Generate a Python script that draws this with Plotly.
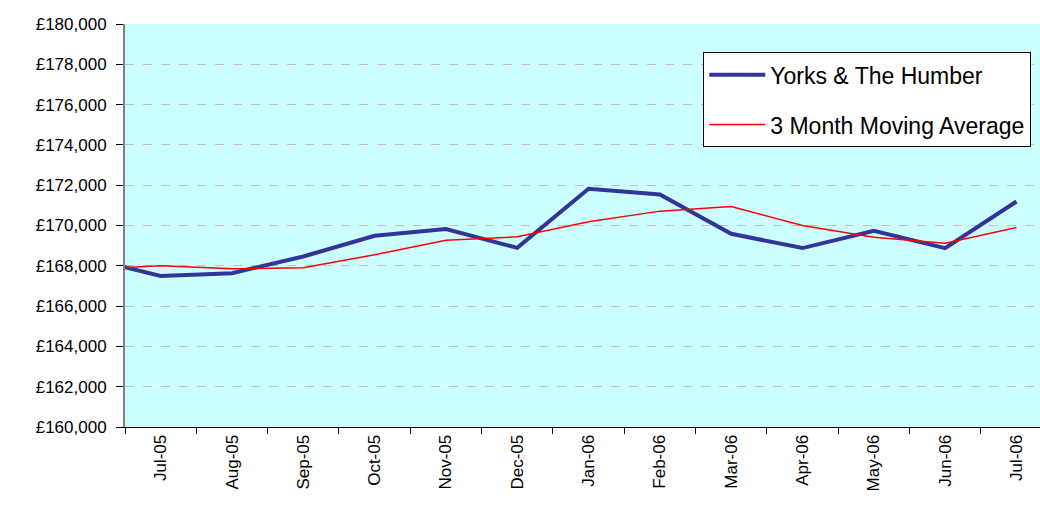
import plotly.graph_objects as go

months = ["Jun-05", "Jul-05", "Aug-05", "Sep-05", "Oct-05", "Nov-05", "Dec-05",
          "Jan-06", "Feb-06", "Mar-06", "Apr-06", "May-06", "Jun-06", "Jul-06"]
yorks = [168360, 167500, 167635, 168460, 169490, 169820, 168890,
         171820, 171540, 169590, 168880, 169735, 168880, 171190]
moving_avg = [167830, 167997, 167848, 167898, 168544, 169273, 169437,
              170182, 170713, 170942, 169999, 169422, 169124, 169899]
y_ticks = list(range(160000, 180001, 2000))
y_tick_text = ["\u00a3{:,}".format(v) for v in y_ticks]

fig = go.Figure()
fig.add_trace(go.Scatter(x=months, y=yorks, mode="lines", name="Yorks & The Humber",
                         legendgroup="a",
                         line=dict(color="#333399", width=4)))
fig.add_trace(go.Scatter(x=months, y=moving_avg, mode="lines", name="3 Month Moving Average",
                         legendgroup="b",
                         line=dict(color="#ff0000", width=1.5)))

font = "Liberation Sans, Arial, sans-serif"
fig.update_layout(
    width=1040, height=510,
    margin=dict(l=125, r=0, t=24, b=83),
    paper_bgcolor="white", plot_bgcolor="#ccffff",
    font=dict(family=font, size=16, color="black"),
    showlegend=True,
    legend=dict(x=0.632, y=0.93, xanchor="left", yanchor="top",
                bgcolor="white", bordercolor="black", borderwidth=1,
                font=dict(size=23, family=font), tracegroupgap=17,
                itemwidth=56),
    xaxis=dict(type="category", categoryorder="array", categoryarray=months,
               range=[0.5, 13.33], tickson="boundaries", ticks="outside", ticklen=6,
               tickcolor="black", tickangle=-90, showgrid=False, showline=True,
               linecolor="black", linewidth=1, tickfont=dict(size=17)),
    yaxis=dict(range=[160000, 180000], tickvals=y_ticks, ticktext=y_tick_text,
               ticks="outside", ticklen=7, tickcolor="black", showline=True,
               linecolor="#808080", linewidth=2, showgrid=True, gridcolor="#c0c0c0",
               griddash="dash", gridwidth=1, zeroline=False, tickfont=dict(size=17),
               ticklabelstandoff=6),
)
fig.write_html("out.html", config={"displayModeBar": False},
               post_script="document.body.style.margin='0';document.body.style.overflow='hidden';")
